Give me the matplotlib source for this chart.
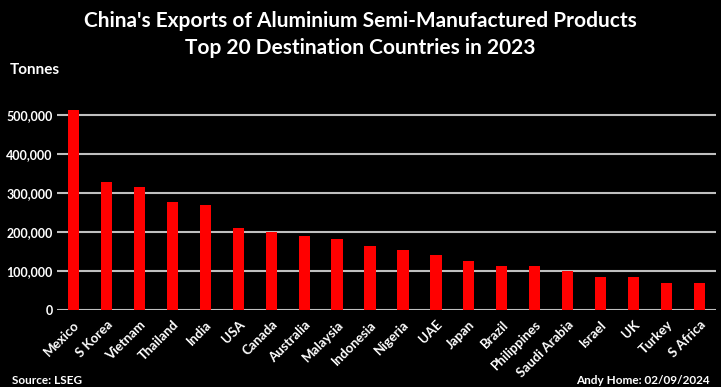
import matplotlib
matplotlib.use("Agg")
import matplotlib.pyplot as plt
from matplotlib.ticker import FuncFormatter

countries = ["Mexico", "S Korea", "Vietnam", "Thailand", "India", "USA", "Canada",
             "Australia", "Malaysia", "Indonesia", "Nigeria", "UAE", "Japan", "Brazil",
             "Philippines", "Saudi Arabia", "Israel", "UK", "Turkey", "S Africa"]
exports = [513000, 329000, 315000, 278000, 269000, 209000, 201000, 191000, 181000,
           164000, 153000, 141000, 125000, 114000, 112000, 100000, 85000, 84000,
           70000, 70000]
yticks = [0, 100000, 200000, 300000, 400000, 500000]

plt.rcParams['font.family'] = ['Lato', 'DejaVu Sans']

fig = plt.figure(figsize=(7.21, 3.87), dpi=100, facecolor='black')
ax = fig.add_axes([57/721, 1 - 310/387, (716-57)/721, (310-100)/387])
ax.set_facecolor('black')

x = list(range(len(countries)))
ax.bar(x, exports, width=0.34, color='#ff0000', zorder=3)

ax.set_xlim(-0.5, len(countries) - 0.5)
ax.set_ylim(0, 538500)
ax.set_yticks(yticks)
ax.yaxis.set_major_formatter(FuncFormatter(lambda v, p: f"{int(v):,}"))
ax.grid(axis='y', color='#bfbfbf', linewidth=1.5, zorder=0)
for s in ax.spines.values():
    s.set_visible(False)
ax.tick_params(axis='both', length=0, colors='white')
ax.tick_params(axis='y', pad=3)
for lab in ax.get_yticklabels():
    lab.set_fontweight('bold')
    lab.set_fontsize(9)
ax.set_xticks(x)
ax.set_xticklabels(countries, rotation=45, ha='right', rotation_mode='anchor',
                   fontsize=9.5, fontweight='bold', color='white')
ax.tick_params(axis='x', pad=6)

fig.text(0.5, 0.945, "China's Exports of Aluminium Semi-Manufactured Products",
         ha='center', va='center', color='white', fontsize=15, fontweight='bold')
fig.text(0.5, 0.875, "Top 20 Destination Countries in 2023",
         ha='center', va='center', color='white', fontsize=15, fontweight='bold')
fig.text(10/721, 1 - 70/387, "Tonnes", ha='left', va='center', color='white',
         fontsize=11, fontweight='bold')
fig.text(12/721, 1 - 381/387, "Source: LSEG", ha='left', va='center', color='white',
         fontsize=8.5, fontweight='bold')
fig.text(710/721, 1 - 381/387, "Andy Home: 02/09/2024", ha='right', va='center',
         color='white', fontsize=8.5, fontweight='bold')

fig.savefig("out.png", dpi=100, facecolor='black')
